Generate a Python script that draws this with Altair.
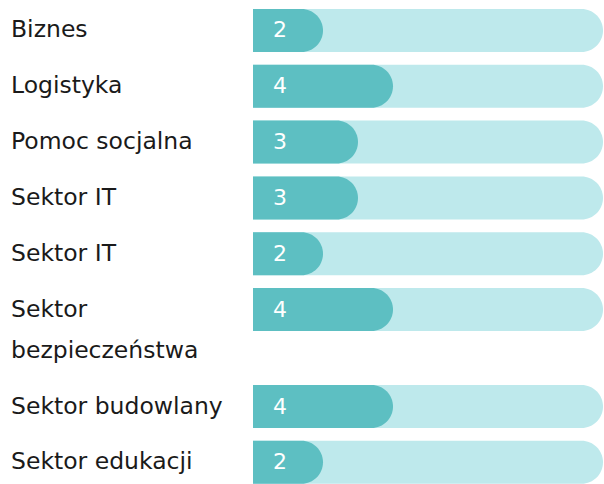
import altair as alt
import pandas as pd

labels = ["Biznes", "Logistyka", "Pomoc socjalna", "Sektor IT", "Sektor IT",
          "Sektor\nbezpieczeństwa", "Sektor budowlany", "Sektor edukacji"]
values = [2, 4, 3, 3, 2, 4, 4, 2]
max_value = 10

# layout (pixels)
FIRST = 26.0   # centre of first row
PITCH = 57.0   # row pitch
LINE = 42.0    # extra height for each extra label line
H, W = 484, 604
FONT = "DejaVu Sans"
FS = 23.5

rows, lines = [], []
extra = 0
for i, (lab, v) in enumerate(zip(labels, values)):
    pos = i + extra * LINE / PITCH
    rows.append({"idx": i, "label": lab, "value": v, "max": max_value, "pos": pos})
    for j, part in enumerate(lab.split("\n")):
        lines.append({"text": part, "pos": pos + j * LINE / PITCH})
    extra += len(lab.split("\n")) - 1

df = pd.DataFrame(rows)
dl = pd.DataFrame(lines)

yscale = alt.Scale(domain=[-FIRST / PITCH, (H - FIRST) / PITCH], range=[0, H], nice=False, zero=False)
xscale = alt.Scale(domain=[0, max_value], range=[253, 603], nice=False)

base = alt.Chart(df)
track = base.mark_bar(size=43, color="#BEE9EC",
                      cornerRadiusTopRight=21.5, cornerRadiusBottomRight=21.5).encode(
    x=alt.X("max:Q", scale=xscale, axis=None),
    x2=alt.datum(0),
    y=alt.Y("pos:Q", scale=yscale, axis=None),
)
bar = base.mark_bar(size=43, color="#5DBFC2",
                    cornerRadiusTopRight=21.5, cornerRadiusBottomRight=21.5).encode(
    x=alt.X("value:Q", scale=xscale, axis=None),
    x2=alt.datum(0),
    y=alt.Y("pos:Q", scale=yscale, axis=None),
)
vtext = base.mark_text(align="center", baseline="middle", color="white",
                       font=FONT, fontSize=22).encode(
    x=alt.value(280),
    y=alt.Y("pos:Q", scale=yscale, axis=None),
    text="value:Q",
)
ltext = alt.Chart(dl).mark_text(align="left", baseline="middle", color="#1a1a1a",
                                font=FONT, fontSize=FS).encode(
    x=alt.value(11),
    y=alt.Y("pos:Q", scale=yscale, axis=None),
    text="text:N",
)

chart = alt.layer(track, bar, vtext, ltext).properties(
    width=W, height=H, padding=0, autosize=alt.AutoSizeParams(type="none")
).configure_view(strokeWidth=0)

chart.save("out.html", embed_options={"renderer": "svg", "actions": False})
